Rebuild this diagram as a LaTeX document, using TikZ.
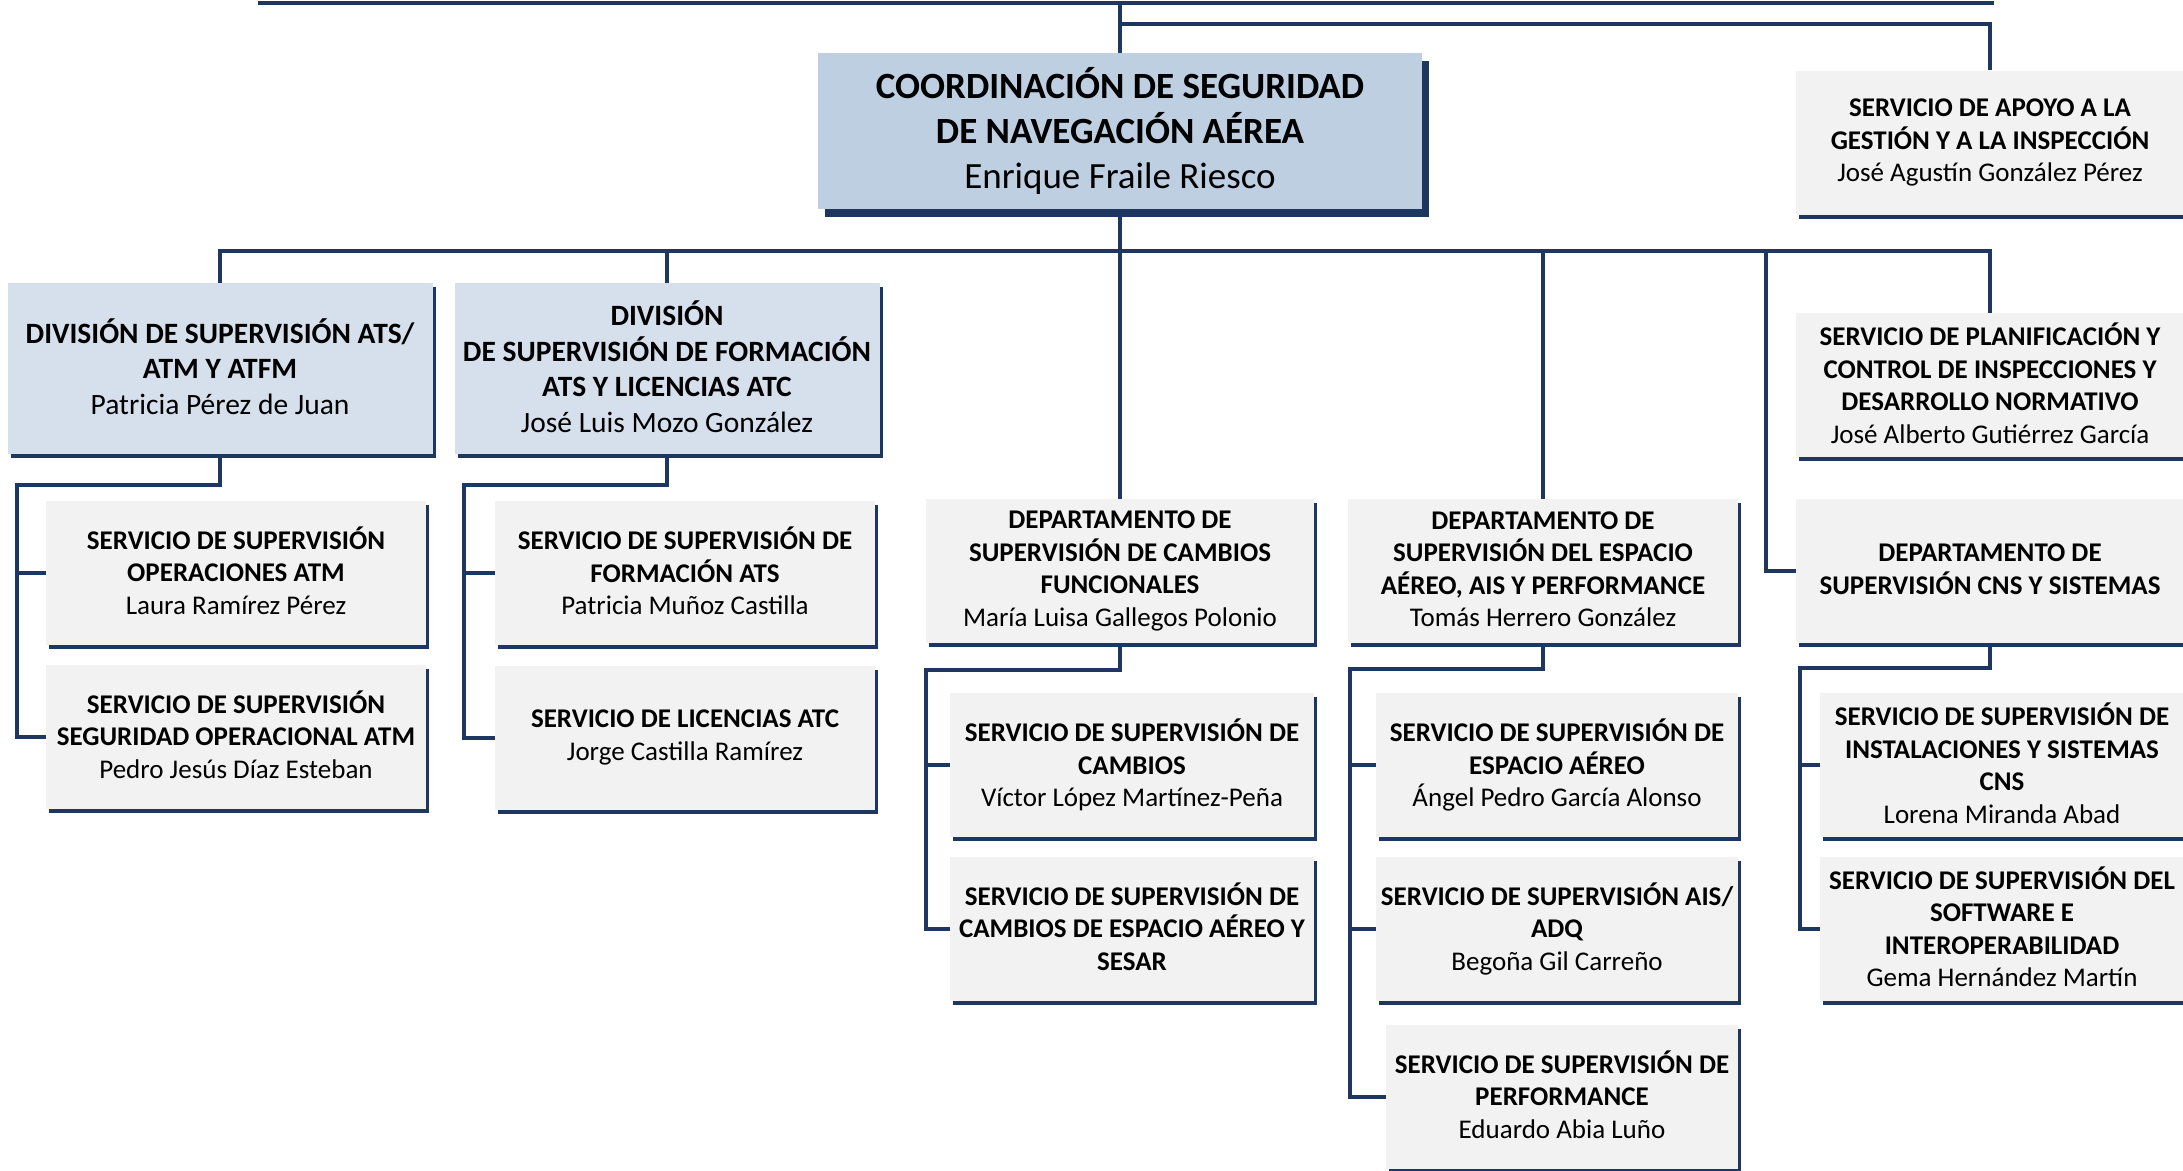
\documentclass[tikz,border=0pt]{standalone}
\usepackage{fontspec}
\setmainfont{Carlito}
\usetikzlibrary{shadows,backgrounds}
\definecolor{navy}{RGB}{29,55,97}
\definecolor{coordblue}{RGB}{190,207,226}
\definecolor{divblue}{RGB}{214,223,236}
\definecolor{servgray}{RGB}{242,242,242}

\begin{document}
\begin{tikzpicture}[x=1pt,y=-1pt,
    box/.style={rectangle,inner sep=0pt,align=center,font=\fontsize{27}{32.5}\selectfont\bfseries,
        execute at end node={\rule[-4pt]{0pt}{1pt}}},
    boxshadow/.style={general shadow={fill=navy,shadow xshift=3pt,shadow yshift=-4pt}},
    coordbox/.style={box,fill=coordblue,font=\fontsize{37}{45}\selectfont\bfseries,
        minimum width=604pt,minimum height=156pt,
        general shadow={fill=navy,shadow xshift=7pt,shadow yshift=-8pt}},
    divbox/.style={box,boxshadow,fill=divblue,font=\fontsize{29.5}{35.5}\selectfont\bfseries,
        minimum width=425pt,minimum height=171pt},
    servbox/.style={box,boxshadow,fill=servgray,minimum height=144pt},
    link/.style={navy,line width=4pt}]
\useasboundingbox (0,0) rectangle (2183,1170);

\node[coordbox] (A) at (1120,131) {COORDINACIÓN DE SEGURIDAD\\DE NAVEGACIÓN AÉREA\\\mdseries Enrique Fraile Riesco};%coordinacion
\node[servbox,minimum width=388pt] (B) at (1990,142.5) {SERVICIO DE APOYO A LA\\GESTIÓN Y A LA INSPECCIÓN\\\mdseries José Agustín González Pérez};%apoyo
\node[divbox] (C) at (220,368.5) {DIVISIÓN DE SUPERVISIÓN ATS/\\ATM Y ATFM\\\mdseries Patricia Pérez de Juan};%div ats
\node[divbox] (D) at (667,368.5) {DIVISIÓN\\DE SUPERVISIÓN DE FORMACIÓN\\ATS Y LICENCIAS ATC\\\mdseries José Luis Mozo González};%div formacion
\node[servbox,minimum width=380pt] (E) at (236,572.5) {SERVICIO DE SUPERVISIÓN\\OPERACIONES ATM\\\mdseries Laura Ramírez Pérez};
\node[servbox,minimum width=380pt] (F) at (236,736.5) {SERVICIO DE SUPERVISIÓN\\SEGURIDAD OPERACIONAL ATM\\\mdseries Pedro Jesús Díaz Esteban};
\node[servbox,minimum width=380pt] (G) at (685,573) {SERVICIO DE SUPERVISIÓN DE\\FORMACIÓN ATS\\\mdseries Patricia Muñoz Castilla};
\node[servbox,minimum width=380pt] (H) at (685,737.5) {SERVICIO DE LICENCIAS ATC\\\mdseries Jorge Castilla Ramírez};
\node[servbox,minimum width=388pt] (I) at (1120,571) {DEPARTAMENTO DE\\SUPERVISIÓN DE CAMBIOS\\FUNCIONALES\\\mdseries María Luisa Gallegos Polonio};%dep cambios
\node[servbox,minimum width=364pt] (J) at (1132,765) {SERVICIO DE SUPERVISIÓN DE\\CAMBIOS\\\mdseries Víctor López Martínez-Peña};
\node[servbox,minimum width=364pt] (K) at (1132,928.5) {SERVICIO DE SUPERVISIÓN DE\\CAMBIOS DE ESPACIO AÉREO Y\\SESAR};
\node[servbox,minimum width=390pt] (L) at (1543,571) {DEPARTAMENTO DE\\SUPERVISIÓN DEL ESPACIO\\AÉREO, AIS Y PERFORMANCE\\\mdseries Tomás Herrero González};%dep espacio
\node[servbox,minimum width=362pt] (M) at (1557,765) {SERVICIO DE SUPERVISIÓN DE\\ESPACIO AÉREO\\\mdseries Ángel Pedro García Alonso};
\node[servbox,minimum width=362pt] (N) at (1557,928.5) {SERVICIO DE SUPERVISIÓN AIS/\\ADQ\\\mdseries Begoña Gil Carreño};
\node[servbox,minimum width=352pt] (O) at (1562,1096.5) {SERVICIO DE SUPERVISIÓN DE\\PERFORMANCE\\\mdseries Eduardo Abia Luño};
\node[servbox,minimum width=388pt] (P) at (1990,385) {SERVICIO DE PLANIFICACIÓN Y\\CONTROL DE INSPECCIONES Y\\DESARROLLO NORMATIVO\\\mdseries José Alberto Gutiérrez García};%planificacion
\node[servbox,minimum width=388pt] (Q) at (1990,571) {DEPARTAMENTO DE\\SUPERVISIÓN CNS Y SISTEMAS};%dep cns
\node[servbox,minimum width=364pt] (R) at (2002,765) {SERVICIO DE SUPERVISIÓN DE\\INSTALACIONES Y SISTEMAS\\CNS\\\mdseries Lorena Miranda Abad};
\node[servbox,minimum width=364pt] (S) at (2002,928.5) {SERVICIO DE SUPERVISIÓN DEL\\SOFTWARE E\\INTEROPERABILIDAD\\\mdseries Gema Hernández Martín};

\coordinate (topL) at (258,2.5);
\coordinate (topR) at (1994,2.5);
\coordinate (apoyo) at (1120,24);%branch
\coordinate (bus) at (1120,251);
\coordinate (cns) at (1766,251);

\begin{scope}[on background layer]
\begin{scope}[link]
\draw (topL) -- (topR);
\draw (A.north |- topL) -- (I.north);
\draw (apoyo) -| (B.north);
\draw (C.north) |- (bus) -| (P.north);
\draw (D.north) -- (D.north |- bus);
\draw (L.north) -- (L.north |- bus);
\draw (cns) |- (Q.west);
\draw (C.south) -- ++(0,31) -| ([xshift=-29pt]E.west) |- (F.west);
\draw ([xshift=-29pt]E.west) -- (E.west);
\draw (D.south) -- ++(0,31) -| ([xshift=-31pt]G.west) |- (H.west);
\draw ([xshift=-31pt]G.west) -- (G.west);
\draw (I.south) -- ++(0,27) -| ([xshift=-24pt]J.west) |- (K.west);
\draw ([xshift=-24pt]J.west) -- (J.west);
\draw (L.south) -- ++(0,26) -| ([xshift=-26pt]M.west) |- (O.west);
\draw ([xshift=-26pt]M.west) -- (M.west);
\draw ([xshift=-26pt]N.west) -- (N.west);
\draw (Q.south) -- ++(0,25) -| ([xshift=-20pt]R.west) |- (S.west);
\draw ([xshift=-20pt]R.west) -- (R.west);
\end{scope}
\end{scope}
\end{tikzpicture}
\end{document}
